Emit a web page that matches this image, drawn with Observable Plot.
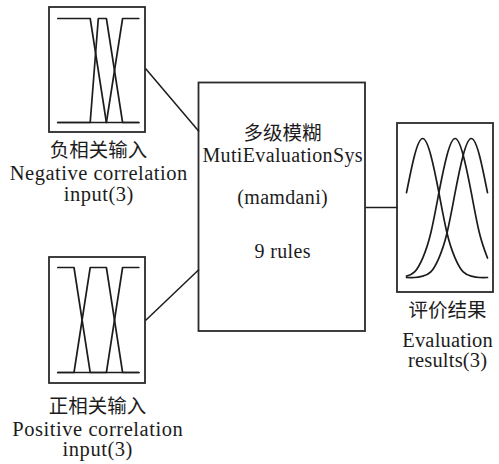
<!DOCTYPE html>
<html>
<head>
<meta charset="utf-8">
<script src="https://cdn.jsdelivr.net/npm/d3@7"></script>
<script src="https://cdn.jsdelivr.net/npm/@observablehq/plot@0.6"></script>
<style>
  html, body { margin: 0; padding: 0; background: #fff; }
  #chart { position: relative; width: 499px; height: 464px; overflow: hidden; }
  #chart svg { position: absolute; }
</style>
</head>
<body>
<div id="chart"></div>
<script>
// ---------- DATA ----------
// Negative correlation input: three trapezoidal membership functions [x, membership]
const negLow  = [[0, 1], [0.4, 1], [0.6, 0], [1, 0]];
const negMid  = [[0, 0], [0.4, 0], [0.5, 1], [0.6, 1], [0.8, 0], [1, 0]];
const negHigh = [[0, 0], [0.6, 0], [0.8, 1], [1, 1]];

// Positive correlation input: three trapezoidal membership functions
const posLow  = [[0, 1], [0.2, 1], [0.4, 0], [1, 0]];
const posMid  = [[0, 0], [0.2, 0], [0.4, 1], [0.6, 1], [0.8, 0], [1, 0]];
const posHigh = [[0, 0], [0.6, 0], [0.8, 1], [1, 1]];

// Evaluation results: three bell-shaped membership functions
const evalX    = [0, 0.1, 0.2, 0.3, 0.4, 0.5, 0.6, 0.7, 0.8, 0.9, 1];
const evalLow  = [0.61, 0.88, 1, 0.88, 0.61, 0.32, 0.14, 0.04, 0.01, 0, 0];
const evalMid  = [0.01, 0.04, 0.14, 0.32, 0.61, 0.88, 1, 0.88, 0.61, 0.32, 0.14];
const evalHigh = [0, 0, 0.01, 0.04, 0.14, 0.32, 0.61, 0.88, 1, 0.88, 0.61];

// Texts
const negLabel  = ["负相关输入", "Negative correlation", "input(3)"];
const posLabel  = ["正相关输入", "Positive correlation", "input(3)"];
const evalLabel = ["评价结果", "Evaluation", "results(3)"];
const sysLabel  = ["多级模糊", "MutiEvaluationSys", "(mamdani)", "9 rules"];

// ---------- LAYOUT (pixels) ----------
const INK = "#1c1c1c";
const SERIF = "'Liberation Serif', 'Times New Roman', serif";
const CJK = "'Noto Sans CJK SC', sans-serif";
const layout = {
  neg:  {box: [49, 7, 145, 132],  inner: [57.3, 18, 138.3, 122]},
  pos:  {box: [49, 257, 145, 383], inner: [57.3, 267, 138.3, 372]},
  eval: {box: [397, 123, 493, 292], inner: [406, 138, 487, 277]},
  sys:  {box: [198.5, 82.5, 365, 331]},
  links: [[145, 68, 198.5, 131], [145, 320, 198.5, 269], [365, 207, 397, 207]],
  negText:  {cx: 98,  base: [156, 179, 200], size: 20.5, spacing: 0.5},
  posText:  {cx: 97,  base: [412, 435, 455], size: 20.5, spacing: 0.55},
  evalText: {cx: 447, base: [316, 346, 366], size: 20.5, spacing: 0.2},
  sysText:  {cx: 282, base: [139, 161, 203, 257], size: 20, spacing: 0.35}
};

// build text rows from the label arrays + layout
function rows(labels, pos) {
  return labels.map((t, i) => ({
    text: t, x: pos.cx + (i === 0 ? 0 : pos.spacing / 2), base: pos.base[i],
    cjk: i === 0, size: i === 0 ? 19.5 : pos.size, spacing: i === 0 ? 0 : pos.spacing
  }));
}
const textRows = [
  ...rows(negLabel, layout.negText),
  ...rows(posLabel, layout.posText),
  ...rows(evalLabel, layout.evalText),
  ...rows(sysLabel, layout.sysText)
];

const boxes = [layout.neg.box, layout.pos.box, layout.eval.box, layout.sys.box]
  .map(([x1, y1, x2, y2]) => ({x1, y1, x2, y2}));
const links = layout.links.map(([x1, y1, x2, y2]) => ({x1, y1, x2, y2}));

const chart = document.getElementById("chart");

const main = Plot.plot({
  width: 499, height: 464, margin: 0,
  x: {domain: [0, 499], range: [0, 499], axis: null},
  y: {domain: [0, 464], range: [0, 464], axis: null},
  style: {background: "white"},
  marks: [
    Plot.rect(boxes, {x1: "x1", x2: "x2", y1: "y1", y2: "y2", fill: "none", stroke: "#2a2a2a", strokeWidth: 1.8}),
    Plot.link(links, {x1: "x1", y1: "y1", x2: "x2", y2: "y2", stroke: INK, strokeWidth: 1.5}),
    ...textRows.map(d => Plot.text([d], {
      x: "x", y: r => r.base - 0.32 * r.size, text: "text",
      fontFamily: d.cjk ? CJK : SERIF, fontSize: d.size, fill: INK, textAnchor: "middle"
    }))
  ]
});
// apply letter spacing per row
d3.select(main).selectAll("g[aria-label='text']").each(function(_, i) {
  const d = textRows[i];
  if (d && d.spacing) d3.select(this).attr("letter-spacing", d.spacing + "px");
});
main.style.left = "0px"; main.style.top = "0px";
chart.appendChild(main);

// Membership-function panels
function panel(series, spec, curve) {
  const [bx1, by1, bx2, by2] = spec.box;
  const [ix1, iy1, ix2, iy2] = spec.inner;
  const svg = Plot.plot({
    width: bx2 - bx1, height: by2 - by1,
    marginLeft: ix1 - bx1, marginRight: bx2 - ix2,
    marginTop: iy1 - by1, marginBottom: by2 - iy2,
    x: {domain: [0, 1], axis: null},
    y: {domain: [0, 1], axis: null},
    style: {background: "none", overflow: "visible"},
    marks: series.map(s => Plot.line(s, {
      x: d => d[0], y: d => d[1], curve,
      stroke: INK, strokeWidth: 1.7
    }))
  });
  svg.style.left = bx1 + "px"; svg.style.top = by1 + "px";
  chart.appendChild(svg);
}
const zipEval = ys => evalX.map((x, i) => [x, ys[i]]);

panel([negLow, negMid, negHigh], layout.neg, "linear");
panel([posLow, posMid, posHigh], layout.pos, "linear");
panel([zipEval(evalLow), zipEval(evalMid), zipEval(evalHigh)], layout.eval, "natural");
</script>
</body>
</html>
